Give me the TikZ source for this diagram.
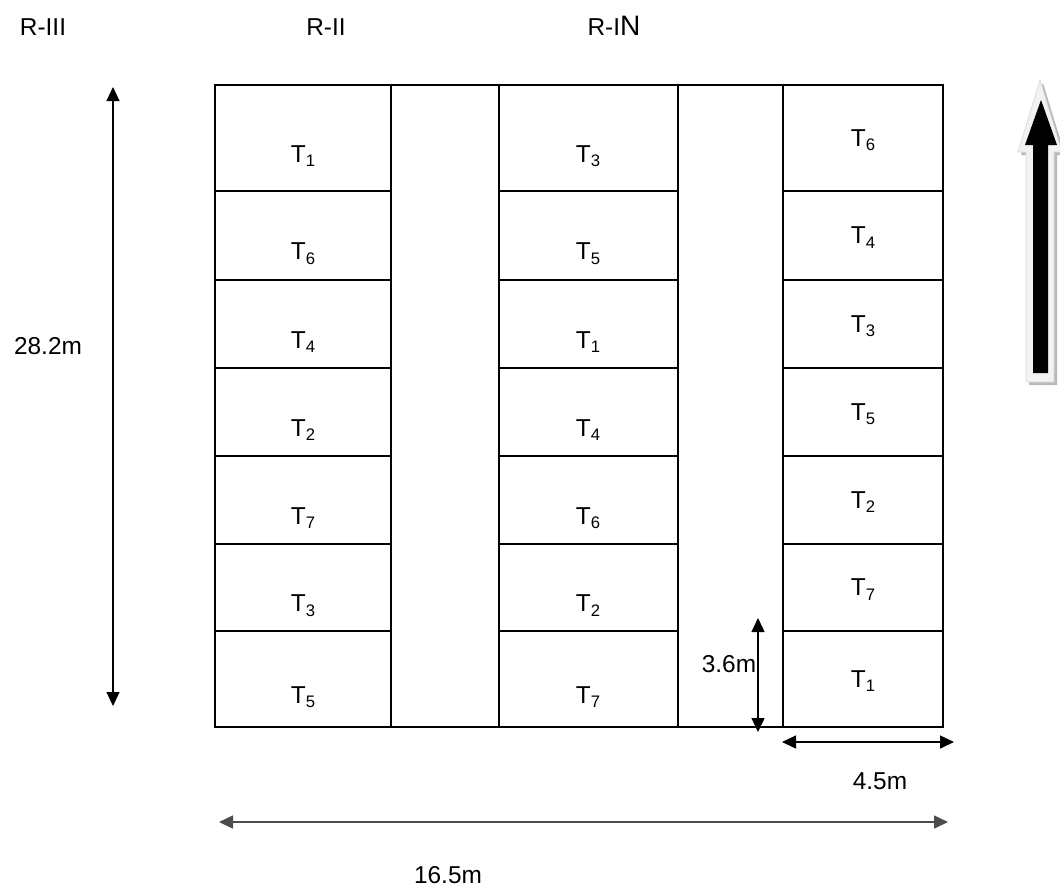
\documentclass[tikz,border=0pt]{standalone}
\usepackage{fontspec}
\setmainfont{Liberation Sans}
\usetikzlibrary{arrows.meta,calc}

\newcommand{\trt}[1]{T\raisebox{-2.8pt}{\fontsize{9.5}{10}\selectfont #1}}

\begin{document}
\begin{tikzpicture}[x=0.02cm, y=-0.02cm,
	plan/.style={line width=1.1pt},
	dim/.style={line width=0.8pt, {Triangle[length=0.28cm, width=0.26cm]}-{Triangle[length=0.28cm, width=0.26cm]}},
	lbl/.style={font=\fontsize{13.9}{16}\selectfont, inner sep=0pt, anchor=base}]
	\useasboundingbox (0,0) rectangle (1060,886);
	% north arrow
	\fill[gray!55] (1043,83) -- (1065,155) -- (1057,155) -- (1057,385) -- (1029,385) -- (1029,155) -- (1021,155) -- cycle;
	\fill[gray!10, draw=gray!30] (1040,80) -- (1062,152) -- (1054,152) -- (1054,382) -- (1026,382) -- (1026,152) -- (1018,152) -- cycle;
	\fill[black] (1041,100) -- (1057,145) -- (1048,145) -- (1048,373) -- (1033,373) -- (1033,145) -- (1025,145) -- cycle;
	% plots
	\draw[plan] (215,85) rectangle (943,727);
	\foreach \x in {391,499,678,783} \draw[plan] (\x,85) -- (\x,727);
	\foreach \y in {191,280,368,456,544,631} {
		\draw[plan] (215,\y) -- (391,\y);
		\draw[plan] (499,\y) -- (678,\y);
		\draw[plan] (783,\y) -- (943,\y);
	}
	\foreach \m/\a/\b/\c [count=\i] in {138/1/3/6, 235.5/6/5/4, 324/4/1/3, 412/2/4/5, 500/7/6/2, 587.5/3/2/7, 679/5/7/1} {
		\node[lbl] (a\i) at (303,\m+24) {\trt{\a}};
		\node[lbl] (b\i) at (588,\m+24) {\trt{\b}};
		\node[lbl] (c\i) at (863,\m+8) {\trt{\c}};
	}
	% replications
	\node[lbl] (rthree) at (43,35) {R-III};
	\node[lbl] (rtwo) at (326,35) {R-II};
	\node[lbl] (rone) at (614,35) {R-I{\fontsize{16}{18}\selectfont N}};
	% dimensions
	\coordinate (lentop) at (113,87);
	\coordinate (lenbot) at (113,706);
	\draw[dim, line width=0.6pt] (lentop) -- (lenbot);
	\node[lbl] (len) at (48,354) {28.2m};
	\coordinate (plottop) at (758,618);
	\coordinate (plotbot) at (758,732);
	\draw[dim] (plottop) -- (plotbot);
	\node[lbl] (plotlen) at (729,672) {3.6m};
	\coordinate (plotleft) at (782,742);
	\coordinate (plotright) at (954,742);
	\draw[dim] (plotleft) -- (plotright);
	\node[lbl] (plotwid) at (880,789) {4.5m};
	\coordinate (widleft) at (219,822);
	\coordinate (widright) at (948,822);
	\draw[dim, draw=black!70] (widleft) -- (widright);
	\node[lbl] (wid) at (448,883) {16.5m};
\end{tikzpicture}
\end{document}
